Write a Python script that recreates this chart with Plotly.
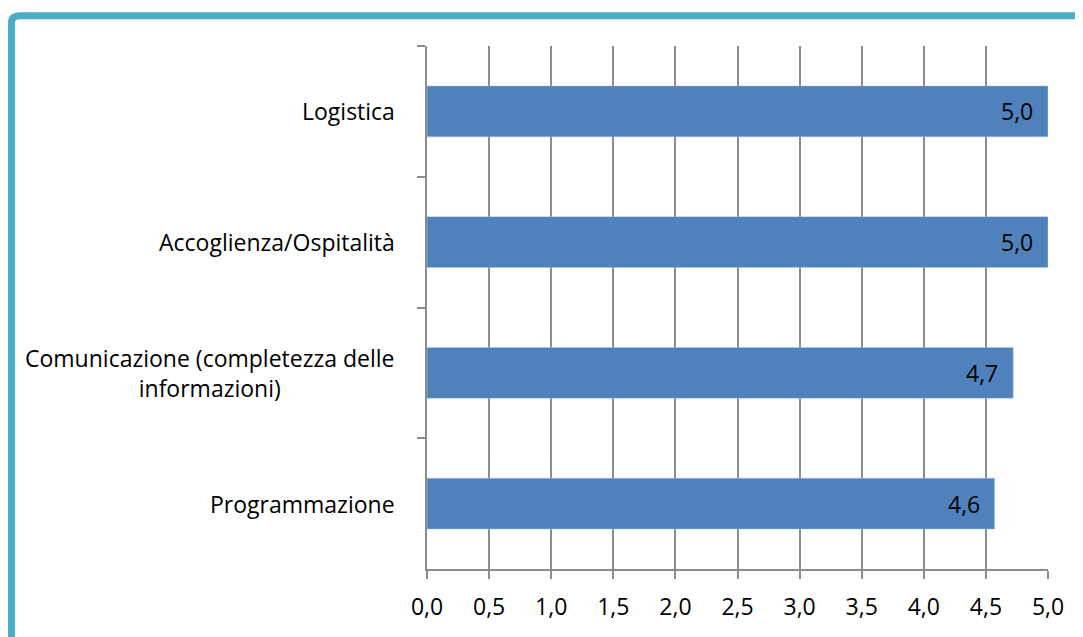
import plotly.graph_objects as go

# data (top to bottom in the picture)
categories = ["Logistica",
              "Accoglienza/Ospitalità",
              "Comunicazione (completezza delle<br>informazioni)",
              "Programmazione"]
scores = [5.0, 5.0, 4.72, 4.57]
score_labels = ["5,0", "5,0", "4,7", "4,6"]
tick_vals = [0, 0.5, 1, 1.5, 2, 2.5, 3, 3.5, 4, 4.5, 5]
tick_text = ["0,0", "0,5", "1,0", "1,5", "2,0", "2,5", "3,0", "3,5", "4,0", "4,5", "5,0"]

FONT = "Open Sans"
FSIZE = 23
GRID = "#8c8c8c"
BAR = "#4f81bd"
FRAME = "#4bacc6"

fig = go.Figure(go.Bar(
    x=scores,
    y=categories,
    orientation="h",
    marker=dict(color=BAR, line=dict(color="#b9cde5", width=0.5)),
    width=0.39,
    hoverinfo="skip",
))

# category labels: right-aligned block, lines centred (like the Excel original)
for cat in categories:
    fig.add_annotation(x=0, y=cat, xref="paper", yref="y", text=cat,
                       showarrow=False, xanchor="right", align="center",
                       xshift=-30, font=dict(family=FONT, size=FSIZE, color="#000000"))

# value labels inside bar ends
for cat, val, lab in zip(categories, scores, score_labels):
    fig.add_annotation(x=val, y=cat, xref="x", yref="y", text=lab,
                       showarrow=False, xanchor="right", xshift=-13,
                       font=dict(family=FONT, size=FSIZE, color="#000000"))

# teal frame on top and left side (rest cropped off in the original)
fig.add_shape(type="path", xref="paper", yref="paper",
              path="M -0.669,-0.3 L -0.669,1.045 Q -0.669,1.058 -0.655,1.058 L 1.2,1.058",
              line=dict(color=FRAME, width=7))

fig.update_xaxes(range=[0, 5], tickvals=tick_vals, ticktext=tick_text,
                 showgrid=True, gridcolor=GRID, gridwidth=1.5,
                 showline=True, linecolor=GRID, linewidth=2,
                 ticks="outside", ticklen=8, tickcolor=GRID, tickwidth=1.5,
                 ticklabelstandoff=8,
                 tickfont=dict(family=FONT, size=FSIZE, color="#000000"),
                 zeroline=False, fixedrange=True)
fig.update_yaxes(autorange="reversed", showticklabels=False,
                 tickson="boundaries", ticks="outside", ticklen=8,
                 tickcolor=GRID, tickwidth=1.5,
                 showline=True, linecolor=GRID, linewidth=2,
                 showgrid=False, fixedrange=True)

# page body adds 8px, so margins are pulled in by that much
fig.update_layout(width=1083, height=637,
                  margin=dict(l=419, r=43, t=38, b=76),
                  plot_bgcolor="#ffffff", paper_bgcolor="#ffffff",
                  showlegend=False, bargap=0.61)

fig.write_html("out.html")
